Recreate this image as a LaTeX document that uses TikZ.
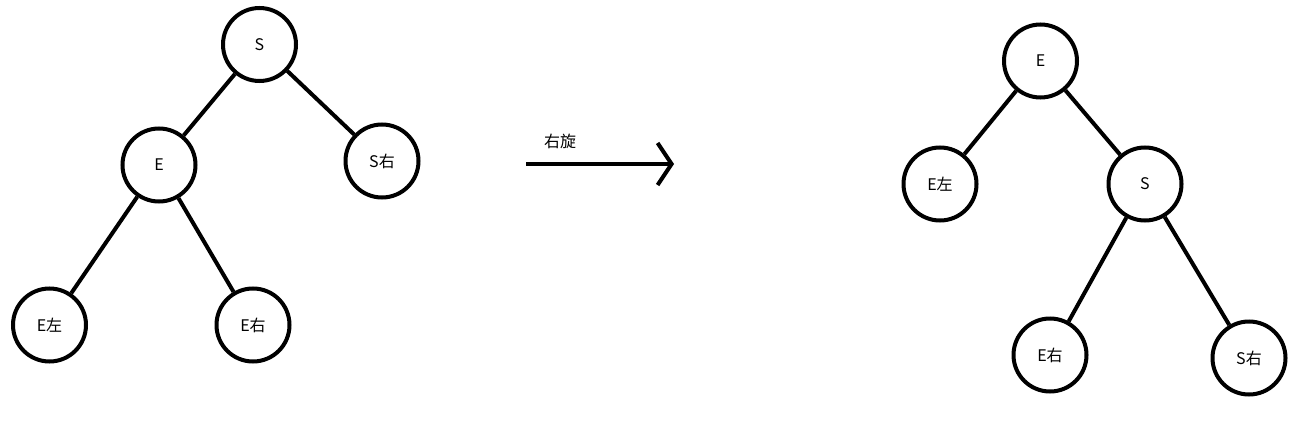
\documentclass[tikz,border=0pt]{standalone}
\usepackage{fontspec}
\setmainfont{Noto Sans CJK SC}
\usetikzlibrary{arrows.meta,positioning}

\begin{document}
\begin{tikzpicture}[x=1pt,y=-1pt,line width=4pt]

    \tikzstyle{t} = [draw, circle, minimum size=73pt, inner sep=0pt,
    font=\fontsize{16}{16}\selectfont]

    \useasboundingbox (0,0) rectangle (1301,441);

    % before
    \draw
    (259.5,44.5) node [t] (S1) {S}
    (159,165) node [t] (E1) {E}
    (382,161) node [t] (Sr1) {S右}
    (49.5,325) node [t] (El1) {E左}
    (253,325) node [t] (Er1) {E右}
    ;

    \draw (S1) -- (E1);
    \draw (S1) -- (Sr1);
    \draw (E1) -- (El1);
    \draw (E1) -- (Er1);

    % arrow
    \coordinate (a1) at (526,164);
    \coordinate (a2) at (674,164);
    \draw [-{Straight Barb[length=14pt,width=42pt]}] (a1) -- (a2)
    node [pos=0.23, above=12pt, font=\fontsize{16}{16}\selectfont, line width=0pt] {右旋};

    % after
    \draw
    (1040.5,61) node [t] (E2) {E}
    (940,184) node [t] (El2) {E左}
    (1145,184) node [t] (S2) {S}
    (1050,355) node [t] (Er2) {E右}
    (1249,358) node [t] (Sr2) {S右}
    ;

    \draw (E2) -- (El2);
    \draw (E2) -- (S2);
    \draw (S2) -- (Er2);
    \draw (S2) -- (Sr2);
  \end{tikzpicture}
\end{document}
